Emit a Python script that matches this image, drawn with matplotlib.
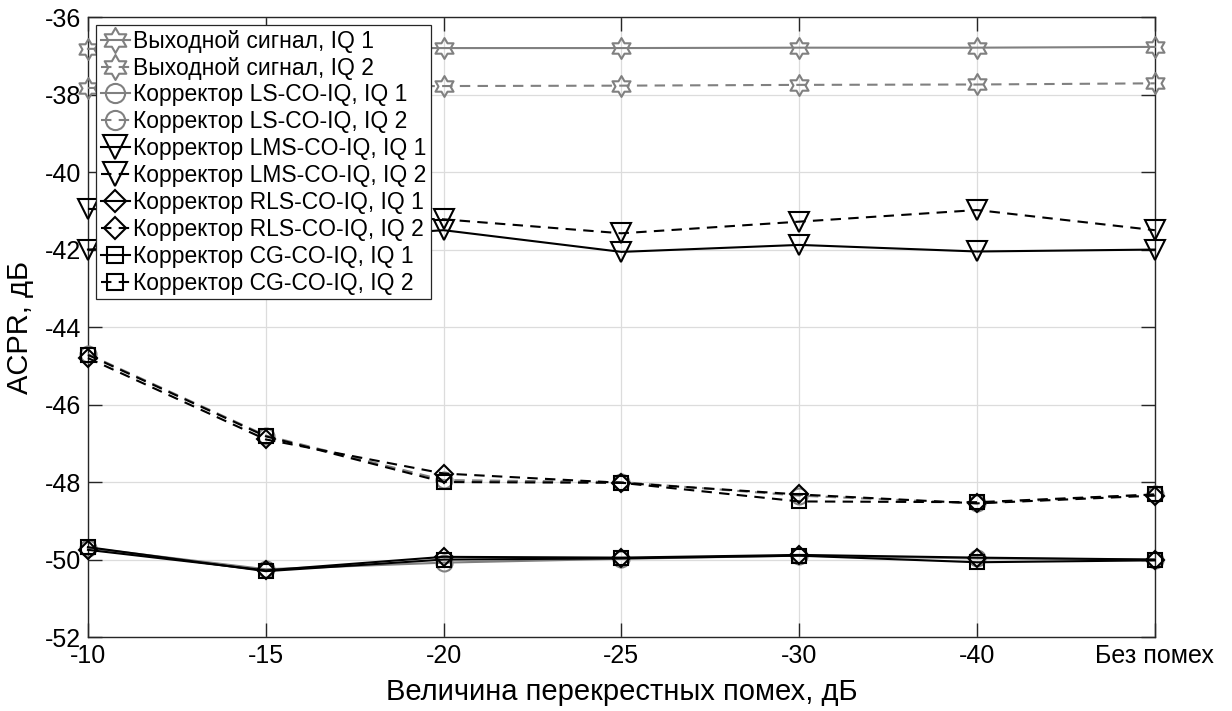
import numpy as np
import matplotlib
matplotlib.use("Agg")
import matplotlib.pyplot as plt
from matplotlib.path import Path

plt.rcParams['font.family'] = ['Liberation Sans', 'DejaVu Sans']
plt.rcParams['axes.unicode_minus'] = False

# Interference levels (categorical x axis)
x_labels = ['-10', '-15', '-20', '-25', '-30', '-40', 'Без помех']

# ACPR, dB
out_iq1 = [-36.82, -36.80, -36.80, -36.80, -36.79, -36.79, -36.77]
out_iq2 = [-37.83, -37.80, -37.78, -37.77, -37.75, -37.74, -37.71]
ls_iq1 = [-49.70, -50.25, -50.08, -49.98, -49.90, -49.97, -50.00]
ls_iq2 = [-44.70, -46.80, -47.95, -48.00, -48.35, -48.55, -48.32]
lms_iq1 = [-42.00, -41.80, -41.50, -42.06, -41.88, -42.05, -42.00]
lms_iq2 = [-40.95, -41.10, -41.22, -41.58, -41.28, -40.98, -41.50]
rls_iq1 = [-49.75, -50.28, -49.93, -49.95, -49.88, -49.95, -50.00]
rls_iq2 = [-44.80, -46.90, -47.78, -48.02, -48.32, -48.55, -48.35]
cg_iq1 = [-49.68, -50.30, -50.00, -49.97, -49.90, -50.07, -50.02]
cg_iq2 = [-44.72, -46.82, -48.00, -48.02, -48.50, -48.52, -48.32]

labels = [
    'Выходной сигнал, IQ 1', 'Выходной сигнал, IQ 2',
    'Корректор LS-CO-IQ, IQ 1', 'Корректор LS-CO-IQ, IQ 2',
    'Корректор LMS-CO-IQ, IQ 1', 'Корректор LMS-CO-IQ, IQ 2',
    'Корректор RLS-CO-IQ, IQ 1', 'Корректор RLS-CO-IQ, IQ 2',
    'Корректор CG-CO-IQ, IQ 1', 'Корректор CG-CO-IQ, IQ 2',
]

hexagram = Path.unit_regular_star(6, 1 / np.sqrt(3))
gray = '#808080'
black = '#000000'

series = [
    (out_iq1, '-', hexagram, gray, 15),
    (out_iq2, '--', hexagram, gray, 15),
    (ls_iq1, '-', 'o', gray, 11.5),
    (ls_iq2, '--', 'o', gray, 11.5),
    (lms_iq1, '-', 'v', black, 14),
    (lms_iq2, '--', 'v', black, 14),
    (rls_iq1, '-', 'D', black, 9),
    (rls_iq2, '--', 'D', black, 9),
    (cg_iq1, '-', 's', black, 9.5),
    (cg_iq2, '--', 's', black, 9.5),
]

fig = plt.figure(figsize=(12.32, 7.11), dpi=100)
ax = fig.add_axes([0.0714, 0.104, 0.866, 0.872])

x = np.arange(len(x_labels))
for (vals, ls, mk, col, ms), lab in zip(series, labels):
    ax.plot(x, vals, linestyle=ls, marker=mk, color=col, markersize=ms,
            markerfacecolor='none', markeredgecolor=col, markeredgewidth=1.5,
            linewidth=1.5, label=lab, dashes=(5, 3.5) if ls == '--' else (None, None),
            clip_on=False, zorder=3)

ax.set_xlim(0, len(x_labels) - 1)
ax.set_ylim(-52, -36)
ax.set_xticks(x)
ax.set_xticklabels(x_labels)
ax.set_yticks(np.arange(-52, -35, 2))

ax.grid(True, color='#dcdcdc', linewidth=0.9)
ax.set_axisbelow(True)
for s in ax.spines.values():
    s.set_color('#262626')
    s.set_linewidth(1.0)
ax.tick_params(direction='in', length=10, width=1.0, color='#262626',
               labelsize=18, top=True, right=True, pad=5)

ax.set_xlabel('Величина перекрестных помех, дБ', fontsize=21, labelpad=7)
ax.set_ylabel('ACPR, дБ', fontsize=21, labelpad=8)

leg = ax.legend(loc='upper left', fontsize=16.5, handlelength=1.3,
                handletextpad=0.1, labelspacing=0.17, borderpad=0.2,
                borderaxespad=0.35, fancybox=False, framealpha=1,
                edgecolor='#262626', markerscale=1.2)
leg.get_frame().set_linewidth(0.9)
leg.set_zorder(5)

fig.savefig('out.png', dpi=100)
